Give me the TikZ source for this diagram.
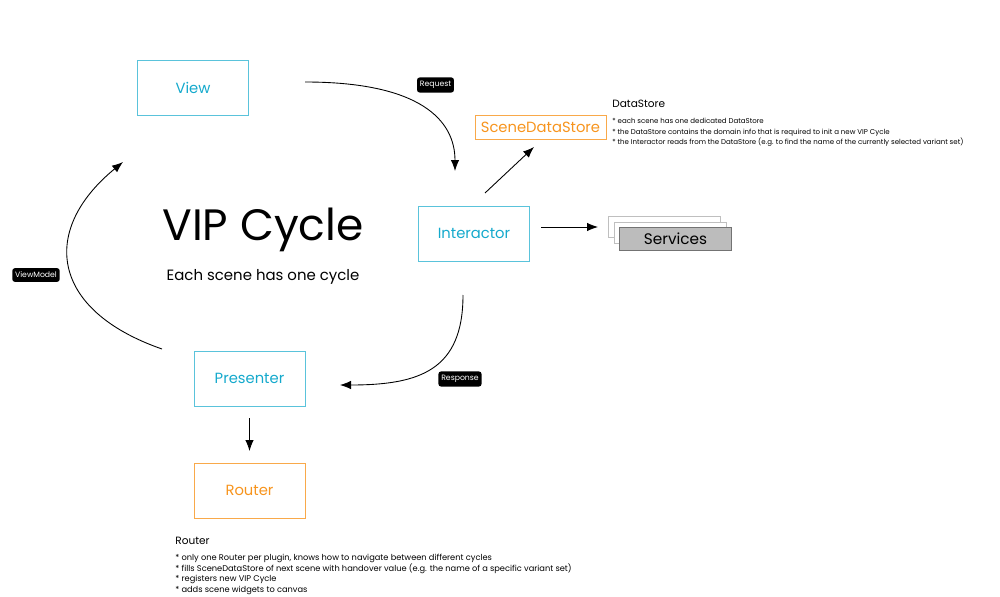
\documentclass[tikz,border=0pt]{standalone}
\usepackage{fontspec}
\setmainfont{Poppins}
\usetikzlibrary{arrows.meta}

\definecolor{vipcyan}{HTML}{14A9CC}
\definecolor{viporange}{HTML}{F7941D}
\definecolor{svcgray}{HTML}{BCBCBC}

\tikzset{
    cyclebox/.style={draw=vipcyan!70, text=vipcyan, line width=0.5pt,
        minimum width=22.2mm, minimum height=11mm, font=\fontsize{8.4}{9}\selectfont},
    routerbox/.style={cyclebox, draw=viporange!80, text=viporange},
    tag/.style={fill=black, text=white, rounded corners=1.5pt, inner xsep=1.6pt,
        inner ysep=2.2pt, font=\fontsize{4.4}{5}\selectfont},
    svcsheet/.style={draw=black!25, fill=white, line width=0.4pt,
        minimum width=22.4mm, minimum height=4.2mm},
    notes/.style={anchor=north west, align=left, inner sep=0pt,
        font=\fontsize{4}{6.2}\selectfont},
    heading/.style={anchor=west, inner sep=0pt, font=\fontsize{6}{7}\selectfont},
    flow/.style={-{Latex[length=2.2mm,width=1.7mm]}, line width=0.5pt}
}

\begin{document}
\begin{tikzpicture}[x=0.2mm, y=-0.2mm]
    \useasboundingbox (0,0) rectangle (1000,597);

    % the three cycle boxes
    \node[cyclebox] (view) at (193,87.5) {View};
    \node[cyclebox] (inter) at (474,233.5) {Interactor};
    \node[cyclebox] (pres) at (249.5,378.5) {Presenter};
    \node[routerbox] (router) at (249.5,490.5) {Router};

    % title
    \node (title) at (263,230) {\fontsize{25}{28}\selectfont VIP Cycle};
    \node (subtitle) at (263,277) {\fontsize{8.5}{9}\selectfont Each scene has one cycle};

    % data store
    \node[draw=viporange!80, text=viporange, line width=0.5pt,
        minimum width=26.2mm, minimum height=4.8mm,
        font=\fontsize{8.4}{9}\selectfont] (store) at (540.5,127) {SceneDataStore};
    \node[heading] (storehead) at (612,104) {DataStore};
    \node[notes] (storenotes) at (612,117.5) {%
        * each scene has one dedicated DataStore\\
        * the DataStore contains the domain info that is required to init a new VIP Cycle\\
        * the Interactor reads from the DataStore (e.g. to find the name of the currently selected variant set)};

    % services stack
    \node[svcsheet] (svcback) at (664,226.5) {};
    \node[svcsheet] (svcmid) at (670,232.5) {};
    \node[svcsheet, draw=black!55, fill=svcgray, minimum height=4.4mm,
        font=\fontsize{8.7}{9}\selectfont] (svc) at (675.5,239) {Services};

    % router notes
    \node[heading] (routerhead) at (175,541) {Router};
    \node[notes, font=\fontsize{4.7}{6.2}\selectfont] (routernotes) at (175,553.5) {%
        * only one Router per plugin, knows how to navigate between different cycles\\
        * fills SceneDataStore of next scene with handover value (e.g. the name of a specific variant set)\\
        * registers new VIP Cycle\\
        * adds scene widgets to canvas};

    % curve ends
    \coordinate (reqfrom) at (305,82);
    \coordinate (reqto) at (455,171);
    \coordinate (resfrom) at (463,295);
    \coordinate (resto) at (340,385);
    \coordinate (vmfrom) at (162,349);
    \coordinate (vmto) at (123,162);
    \coordinate (storefrom) at (485,193);
    \coordinate (storeto) at (534,147);
    \coordinate (svcfrom) at (541,227);
    \coordinate (svcto) at (598,227);
    \coordinate (routerfrom) at (249.5,418);
    \coordinate (routerto) at (249.5,451);

    % connectors
    \draw[flow] (reqfrom) .. controls (420,82) and (455,120) .. (reqto);
    \draw[flow] (resfrom) .. controls (463,370) and (420,385) .. (resto);
    \draw[flow] (vmfrom) .. controls (50,310) and (40,230) .. (vmto);
    \draw[flow] (storefrom) -- (storeto);
    \draw[flow] (svcfrom) -- (svcto);
    \draw[flow] (routerfrom) -- (routerto);

    % labels on the curves
    \node[tag] (request) at (435.5,85) {Request};
    \node[tag] (response) at (460,379) {Response};
    \node[tag] (viewmodel) at (36,275) {ViewModel};
\end{tikzpicture}
\end{document}
